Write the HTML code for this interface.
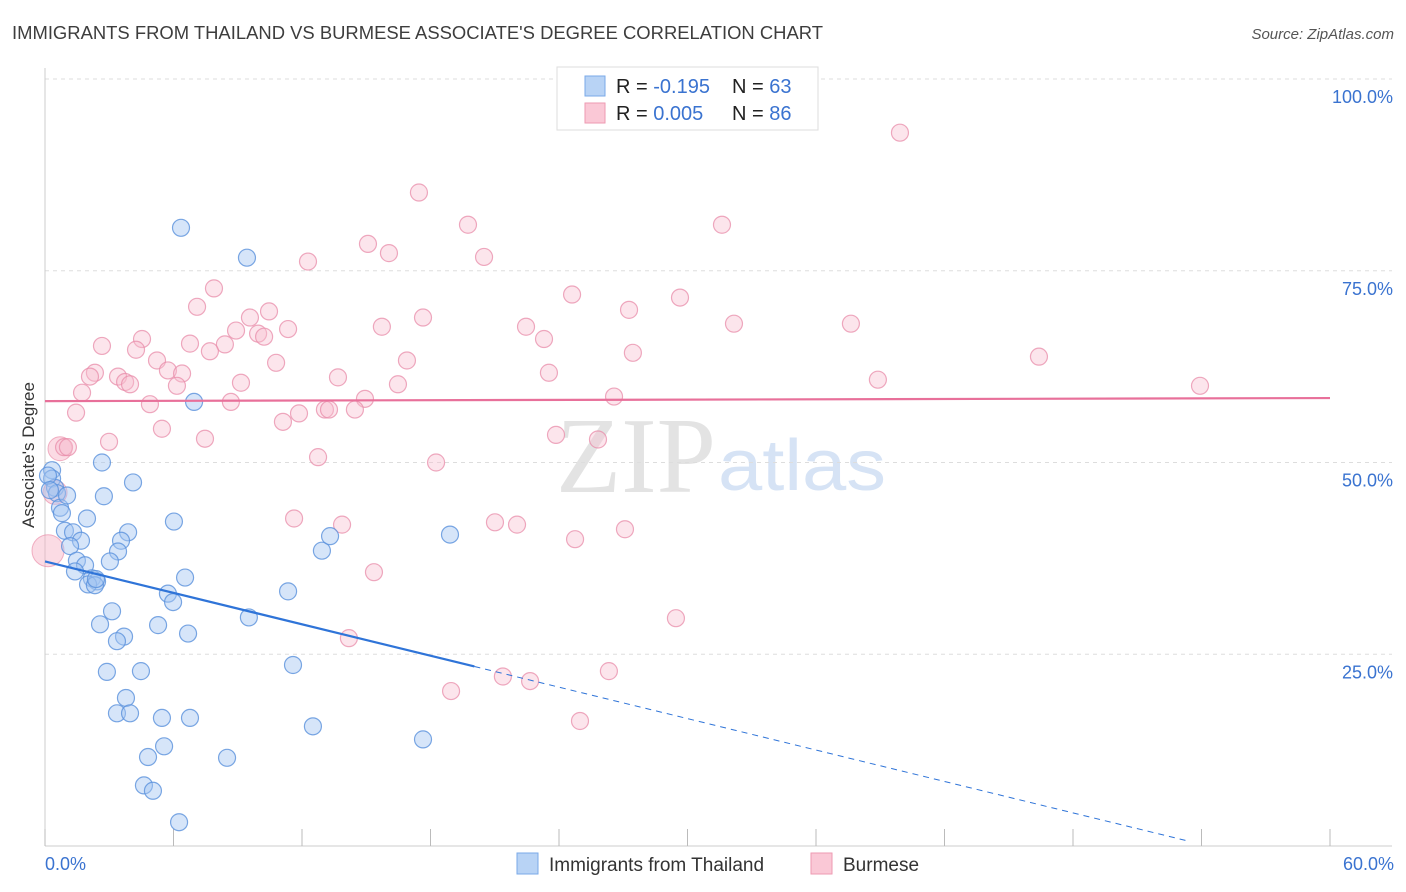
<!DOCTYPE html>
<html><head><meta charset="utf-8"><style>
body{margin:0;background:#fff;font-family:"Liberation Sans",sans-serif;}
#wrap{position:relative;width:1406px;height:892px;overflow:hidden;}
</style></head><body>
<div id="wrap">
<svg id="svg" width="1406" height="892" xmlns="http://www.w3.org/2000/svg">
<text x="12" y="39" font-size="18" fill="#3d3d3d" textLength="811" lengthAdjust="spacingAndGlyphs">IMMIGRANTS FROM THAILAND VS BURMESE ASSOCIATE'S DEGREE CORRELATION CHART</text>
<text x="1394" y="39" font-size="15" fill="#555" font-style="italic" text-anchor="end">Source: ZipAtlas.com</text>
<text x="716" y="492" font-size="108" fill="#e3e3e3" text-anchor="end" font-family="Liberation Serif,serif" textLength="160" lengthAdjust="spacingAndGlyphs">ZIP</text>
<text x="718" y="490" font-size="72" fill="#d6e3f5" textLength="168" lengthAdjust="spacingAndGlyphs">atlas</text>
<text transform="translate(34,455) rotate(-90)" font-size="17" fill="#333" text-anchor="middle">Associate's Degree</text>
<g id="grid"></g><g id="pts"></g><g id="trend"></g>
<g>
<rect x="557" y="67" width="261" height="63" fill="#fff" stroke="#ddd"/>
<rect x="585" y="76" width="20" height="20" fill="#b8d3f5" stroke="#7aaae8"/>
<rect x="585" y="103" width="20" height="20" fill="#fac8d6" stroke="#ee9ab2"/>
<text x="616" y="93" font-size="20" fill="#222">R = <tspan fill="#3a73d0">-0.195</tspan><tspan x="732">N = </tspan><tspan fill="#3a73d0">63</tspan></text>
<text x="616" y="120" font-size="20" fill="#222">R = <tspan fill="#3a73d0">0.005</tspan><tspan x="732">N = </tspan><tspan fill="#3a73d0">86</tspan></text>
</g>
<rect x="517" y="853" width="21" height="21" fill="#b8d3f5" stroke="#7aaae8"/>
<text x="549" y="871" font-size="19" fill="#333">Immigrants from Thailand</text>
<rect x="811" y="853" width="21" height="21" fill="#fac8d6" stroke="#ee9ab2"/>
<text x="843" y="871" font-size="19" fill="#333">Burmese</text>
</svg>
</div>
<script>
const yTicks=[25,50,75,100];
const yTickLabels=["25.0%","50.0%","75.0%","100.0%"];
const xTicks=[0,6,12,18,24,30,36,42,48,54,60];
const xEndLabels=["0.0%","60.0%"];
const blueX=[6.35,9.43,6.96,2.66,4.11,0.33,0.33,0.47,0.56,0.70,0.79,2.75,1.96,0.93,1.31,1.68,1.17,6.02,3.88,3.55,3.41,3.03,1.49,1.87,1.40,2.19,2.43,2.01,2.33,6.54,5.74,5.98,3.13,11.35,12.93,13.31,18.91,2.57,5.28,3.69,3.36,6.68,9.52,2.89,4.48,11.58,3.78,3.36,3.97,5.46,6.77,12.51,17.65,5.56,4.81,8.50,4.62,5.04,6.26,0.14,0.23,1.03,2.38];
const blueY=[80.6,76.7,57.9,50.0,47.4,49.0,47.9,46.7,46.0,44.1,43.4,45.6,42.7,41.1,40.9,39.8,39.1,42.3,40.9,39.8,38.4,37.1,37.2,36.6,35.8,34.9,34.5,34.1,34.0,35.0,32.9,31.8,30.6,33.2,38.5,40.4,40.6,28.9,28.8,27.3,26.7,27.7,29.8,22.7,22.8,23.6,19.3,17.3,17.3,16.7,16.7,15.6,13.9,13.0,11.6,11.5,7.9,7.2,3.1,48.3,46.4,45.7,34.8];
const pinkX=[39.92,17.46,19.75,31.61,15.08,16.06,20.50,12.28,7.89,24.61,29.65,7.10,27.27,10.46,17.65,9.57,15.73,22.46,32.17,37.63,11.35,8.92,9.95,10.23,4.53,23.30,2.66,6.77,8.40,7.70,4.25,27.45,46.41,5.23,16.90,10.79,5.74,6.40,2.33,2.10,3.41,3.74,13.68,23.53,38.89,53.93,9.15,16.48,3.97,6.16,1.73,14.94,26.57,8.68,4.90,11.86,13.07,13.26,14.47,11.11,1.45,5.46,2.99,7.47,23.86,25.82,0.89,1.07,18.26,12.75,11.63,21.01,22.04,13.87,27.08,24.75,15.36,29.46,14.19,26.33,21.38,22.65,18.96,24.98];
const pinkY=[93.0,85.2,81.0,81.0,78.5,77.3,76.8,76.2,72.7,71.9,71.5,70.3,69.9,69.7,68.9,68.9,67.7,67.7,68.1,68.1,67.4,67.2,66.8,66.4,66.1,66.1,65.2,65.5,65.4,64.5,64.7,64.3,63.8,63.3,63.3,63.0,62.0,61.6,61.7,61.2,61.2,60.5,61.1,61.7,60.8,60.0,60.4,60.2,60.2,60.0,59.1,58.3,58.6,57.9,57.6,56.4,56.9,56.9,56.9,55.3,56.5,54.4,52.7,53.1,53.6,53.0,52.0,52.0,50.0,50.7,42.7,42.2,41.9,41.9,41.3,40.0,35.7,29.7,27.1,22.8,22.1,21.5,20.2,16.3];
const bigPinkX=[0.14,0.70,0.47];
const bigPinkY=[38.5,51.8,46.1];
const blueTrend=[37.1,-0.683];
const blueSolidEnd=20.05, blueDashEnd=53.4;
const pinkTrend=[58.0,0.0067];

const X0=45,X1=1330,Y0=846,Y100=79;
const sx=v=>X0+(v/60)*(X1-X0);
const sy=v=>Y0-(v/100)*(Y0-Y100);
const NS="http://www.w3.org/2000/svg";
function mk(tag,attrs,parent){const e=document.createElementNS(NS,tag);for(const k in attrs)e.setAttribute(k,attrs[k]);parent.appendChild(e);return e;}
const grid=document.getElementById('grid'),pts=document.getElementById('pts'),tr=document.getElementById('trend');
yTicks.forEach((t,i)=>{
 const l=mk('line',{x1:X0,x2:1392,y1:sy(t),y2:sy(t),stroke:'#ddd','stroke-dasharray':'4,4'},grid);
 
 
 const tx=mk('text',{x:1393,y:sy(t)+24,'font-size':18,fill:'#3a73d0','text-anchor':'end'},grid);
 tx.textContent=yTickLabels[i];
 
 
});
const ax=mk('line',{x1:X0,x2:X0,y1:68,y2:Y0,stroke:'#ccc'},grid);


const bx=mk('line',{x1:X0,x2:1392,y1:Y0,y2:Y0,stroke:'#ccc'},grid);


xTicks.forEach(t=>{
 const l=mk('line',{x1:sx(t),x2:sx(t),y1:Y0,y2:Y0-17,stroke:'#bbb'},grid);
 
 
});
const xl0=mk('text',{x:45,y:870,'font-size':18,fill:'#3a73d0'},grid);xl0.textContent=xEndLabels[0];


const xl1=mk('text',{x:1394,y:870,'font-size':18,fill:'#3a73d0','text-anchor':'end'},grid);xl1.textContent=xEndLabels[1];


bigPinkX.forEach((v,i)=>{
 const c=mk('circle',{cx:sx(v),cy:sy(bigPinkY[i]),r:i==0?16:12,fill:'rgba(246,175,196,0.45)',stroke:'rgba(232,130,160,0.6)'},pts);
 
 
});
pinkX.forEach((v,i)=>{
 const c=mk('circle',{cx:sx(v),cy:sy(pinkY[i]),r:8.5,fill:'rgba(248,190,208,0.4)',stroke:'rgba(232,140,170,0.75)','stroke-width':1.2},pts);
 
 
});
blueX.forEach((v,i)=>{
 const c=mk('circle',{cx:sx(v),cy:sy(blueY[i]),r:8.5,fill:'rgba(165,198,242,0.45)',stroke:'rgba(90,145,220,0.8)','stroke-width':1.2},pts);
 
 
});
const bf=x=>blueTrend[0]+blueTrend[1]*x, pf=x=>pinkTrend[0]+pinkTrend[1]*x;
const p1=mk('line',{x1:sx(0),y1:sy(pf(0)),x2:sx(60),y2:sy(pf(60)),stroke:'#e8709a','stroke-width':2.2},tr);


const b1=mk('line',{x1:sx(0),y1:sy(bf(0)),x2:sx(blueSolidEnd),y2:sy(bf(blueSolidEnd)),stroke:'#2f74d8','stroke-width':2.2},tr);


const b2=mk('line',{x1:sx(blueSolidEnd),y1:sy(bf(blueSolidEnd)),x2:sx(blueDashEnd),y2:sy(bf(blueDashEnd)),stroke:'#2f74d8','stroke-width':1,'stroke-dasharray':'6,5'},tr);


</script>
</body></html>
